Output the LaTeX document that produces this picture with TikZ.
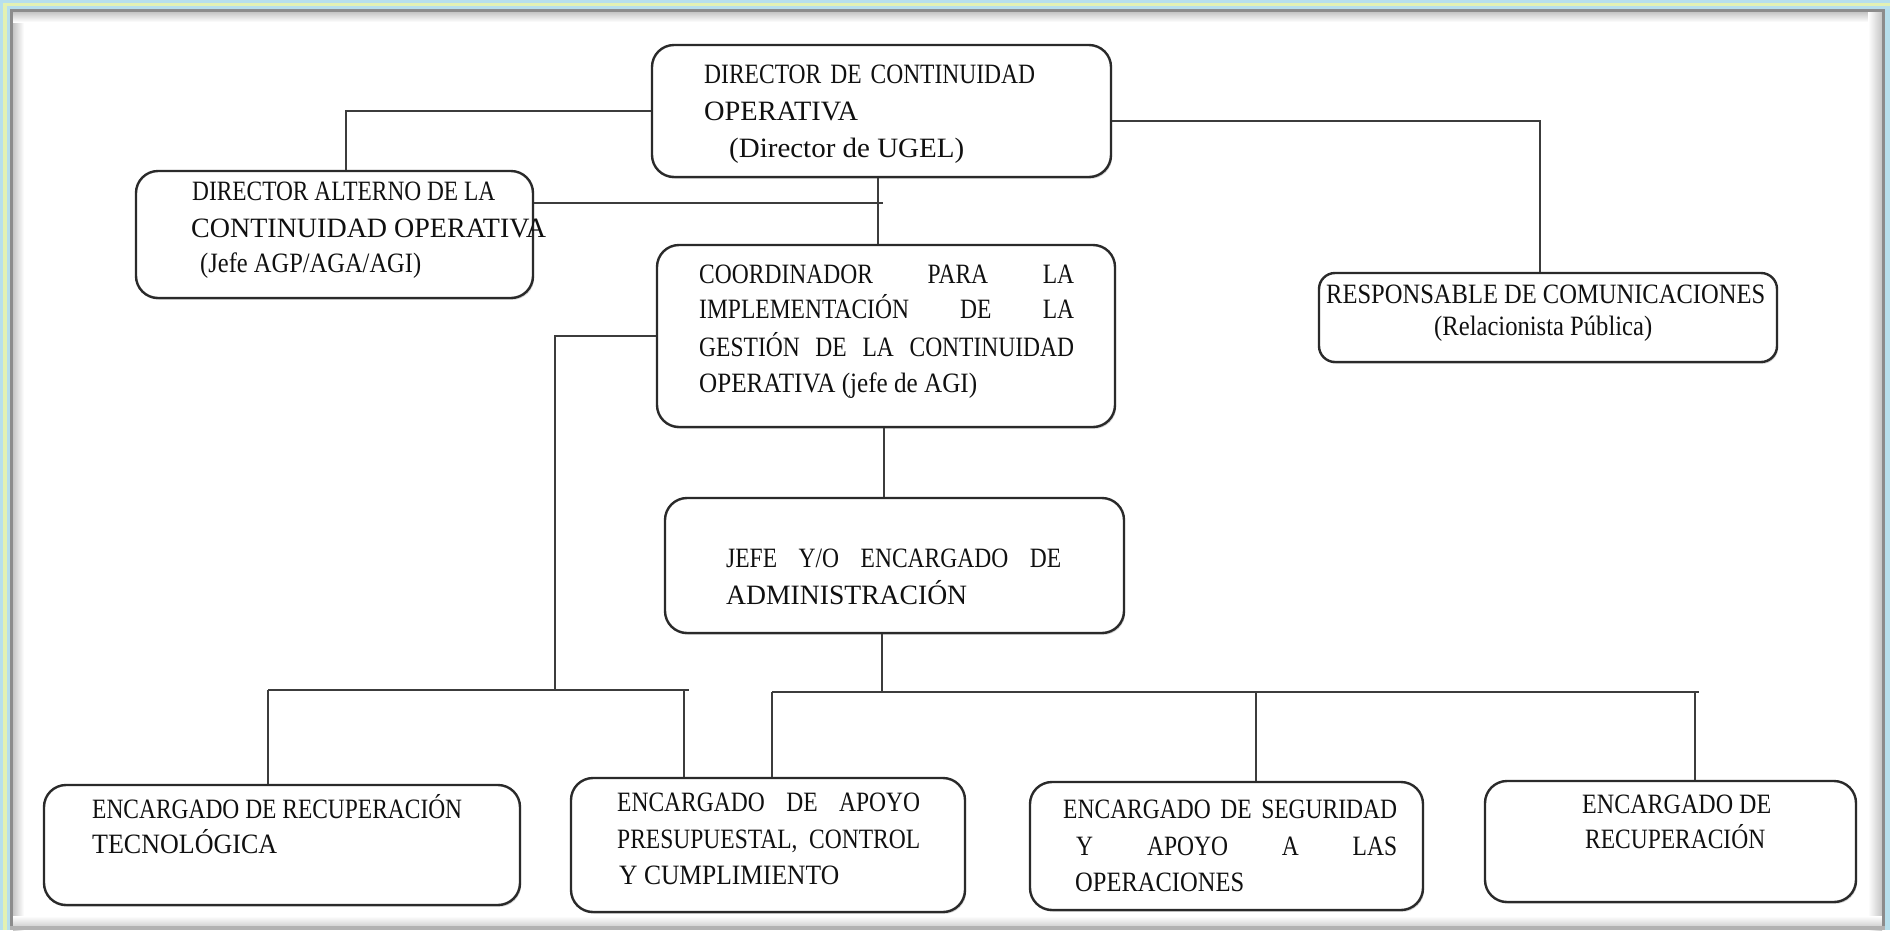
\documentclass[tikz,border=0pt]{standalone}
\usepackage{fontspec}
\setmainfont{Liberation Serif}[FakeStretch=0.84]
\usetikzlibrary{shadows}
\definecolor{frblue}{HTML}{B7DFEC}
\definecolor{fryel}{HTML}{E3F1B3}
\definecolor{frgray}{HTML}{8C8C8C}
\definecolor{boxline}{HTML}{2A2A2A}
\definecolor{conncol}{HTML}{3C3C3C}
\definecolor{txtcol}{HTML}{101010}
\newcommand\fw[2]{\resizebox{#1pt}{\height}{#2}}
\newcommand\jw[2]{\makebox[#1pt][s]{#2}}
\tikzset{
  box/.style={draw=boxline, line width=2.4pt, rounded corners=22pt, fill=white,
    drop shadow={shadow xshift=1.2pt, shadow yshift=-1.8pt, opacity=0.35}},
  conn/.style={draw=conncol, line width=1.8pt},
  txt/.style={anchor=base west, inner sep=0pt, text=txtcol, font=\fontsize{28}{32}\selectfont},
}
\begin{document}
\begin{tikzpicture}[x=1pt,y=-1pt]
\useasboundingbox (0,0) rectangle (1890,930);
% page and frame
\fill[white] (0,0) rectangle (1890,930);
\shade[left color=gray!45, right color=white] (13,12) rectangle (24,930);
\shade[top color=gray!45, bottom color=white] (13,12) rectangle (1882,22);
\shade[left color=white, right color=gray!45] (1868,12) rectangle (1882,930);
\shade[top color=white, bottom color=gray!35] (13,916) rectangle (1882,926);
\fill[frgray] (10,9) rectangle (13,930);
\fill[frgray] (10,9) rectangle (1885,12);
\fill[frgray] (1882,9) rectangle (1885,930);
\fill[gray!60] (10,926) rectangle (1885,930);
\fill[frblue] (0,0) rectangle (1890,9);
\fill[frblue] (0,0) rectangle (10,930);
\fill[frblue] (1885,0) rectangle (1890,930);
\fill[fryel] (3,3) rectangle (1890,6);
\fill[fryel] (3,3) rectangle (7,930);

% boxes
\node[box, minimum width=459pt, minimum height=132pt] (D) at (881.5,111) {};
\node[box, minimum width=397pt, minimum height=127pt] (A1) at (334.5,234.5) {};
\node[box, minimum width=458pt, minimum height=182pt] (C) at (886,336) {};
\node[box, minimum width=459pt, minimum height=135pt] (J) at (894.5,565.5) {};
\node[box, rounded corners=16pt, minimum width=458pt, minimum height=89pt] (R) at (1548,317.5) {};
\node[box, minimum width=476pt, minimum height=120pt] (B1) at (282,845) {};
\node[box, minimum width=394pt, minimum height=134pt] (B2) at (768,845) {};
\node[box, minimum width=393pt, minimum height=128pt] (B3) at (1226.5,846) {};
\node[box, minimum width=371pt, minimum height=121pt] (B4) at (1670.5,841.5) {};

% connector end points
\coordinate (jA) at (883,203);
\coordinate (jR) at (1540,121);
\coordinate (lc) at (555,690);
\coordinate (lL) at (268,690);
\coordinate (lR) at (689,690);
\coordinate (lB2) at (684,690);
\coordinate (rc) at (882,692);
\coordinate (rL) at (772,692);
\coordinate (rR) at (1699,692);
\coordinate (rB3) at (1256,692);
\coordinate (rB4) at (1695,692);

% connectors
\draw[conn] (D.west) -| ([xshift=11.5pt]A1.north);
\draw[conn] ([xshift=-3.5pt]D.south) -- ([xshift=-3.5pt]D.south |- C.north);
\draw[conn] (A1.east |- jA) -- (jA);
\draw[conn] (D.east |- jR) -- (jR) -- (jR |- R.north);
\draw[conn] (C.west) -| (lc);
\draw[conn] (lL) -- (lR);
\draw[conn] (lL) -- (lL |- B1.north);
\draw[conn] (lB2) -- (lB2 |- B2.north);
\draw[conn] ([xshift=-2pt]C.south) -- ([xshift=-2pt]C.south |- J.north);
\draw[conn] (J.south -| rc) -- (rc);
\draw[conn] (rL) -- (rR);
\draw[conn] (rL) -- (rL |- B2.north);
\draw[conn] (rB3) -- (rB3 |- B3.north);
\draw[conn] (rB4) -- (rB4 |- B4.north);

% texts
\node[txt] (d1) at (704,83) {\jw{331}{DIRECTOR DE CONTINUIDAD}};
\node[txt] (d2) at (704,120) {\fw{154}{OPERATIVA}};
\node[txt] (d3) at (729,157) {\fw{235}{(Director de UGEL)}};

\node[txt] (a1) at (192,200) {\fw{303}{DIRECTOR ALTERNO DE LA}};
\node[txt] (a2) at (191,237) {\fw{355}{CONTINUIDAD OPERATIVA}};
\node[txt] (a3) at (200,272) {\fw{221}{(Jefe AGP/AGA/AGI)}};

\node[txt] (c1) at (699,283) {\jw{375}{COORDINADOR PARA LA}};
\node[txt] (c2) at (699,318) {\jw{375}{IMPLEMENTACIÓN DE LA}};
\node[txt] (c3) at (699,356) {\jw{375}{GESTIÓN DE LA CONTINUIDAD}};
\node[txt] (c4) at (699,392) {\fw{278}{OPERATIVA (jefe de AGI)}};

\node[txt] (j1) at (726,567) {\jw{335}{JEFE Y/O ENCARGADO DE}};
\node[txt] (j2) at (726,604) {\fw{241}{ADMINISTRACIÓN}};

\node[txt] (r1) at (1326,303) {\fw{439}{RESPONSABLE DE COMUNICACIONES}};
\node[txt] (r2) at (1434,335) {\fw{218}{(Relacionista Pública)}};

\node[txt] (b11) at (92,818) {\fw{370}{ENCARGADO DE RECUPERACIÓN}};
\node[txt] (b12) at (92,853) {\fw{185}{TECNOLÓGICA}};

\node[txt] (b21) at (617,811) {\jw{303}{ENCARGADO DE APOYO}};
\node[txt] (b22) at (617,848) {\jw{303}{PRESUPUESTAL, CONTROL}};
\node[txt] (b23) at (619,884) {\fw{220}{Y CUMPLIMIENTO}};

\node[txt] (b31) at (1063,818) {\jw{334}{ENCARGADO DE SEGURIDAD}};
\node[txt] (b32) at (1076,855) {\jw{321}{Y APOYO A LAS}};
\node[txt] (b33) at (1075,891) {\fw{169}{OPERACIONES}};

\node[txt] (b41) at (1582,813) {\fw{189}{ENCARGADO DE}};
\node[txt] (b42) at (1585,848) {\fw{180}{RECUPERACIÓN}};
\end{tikzpicture}
\end{document}
